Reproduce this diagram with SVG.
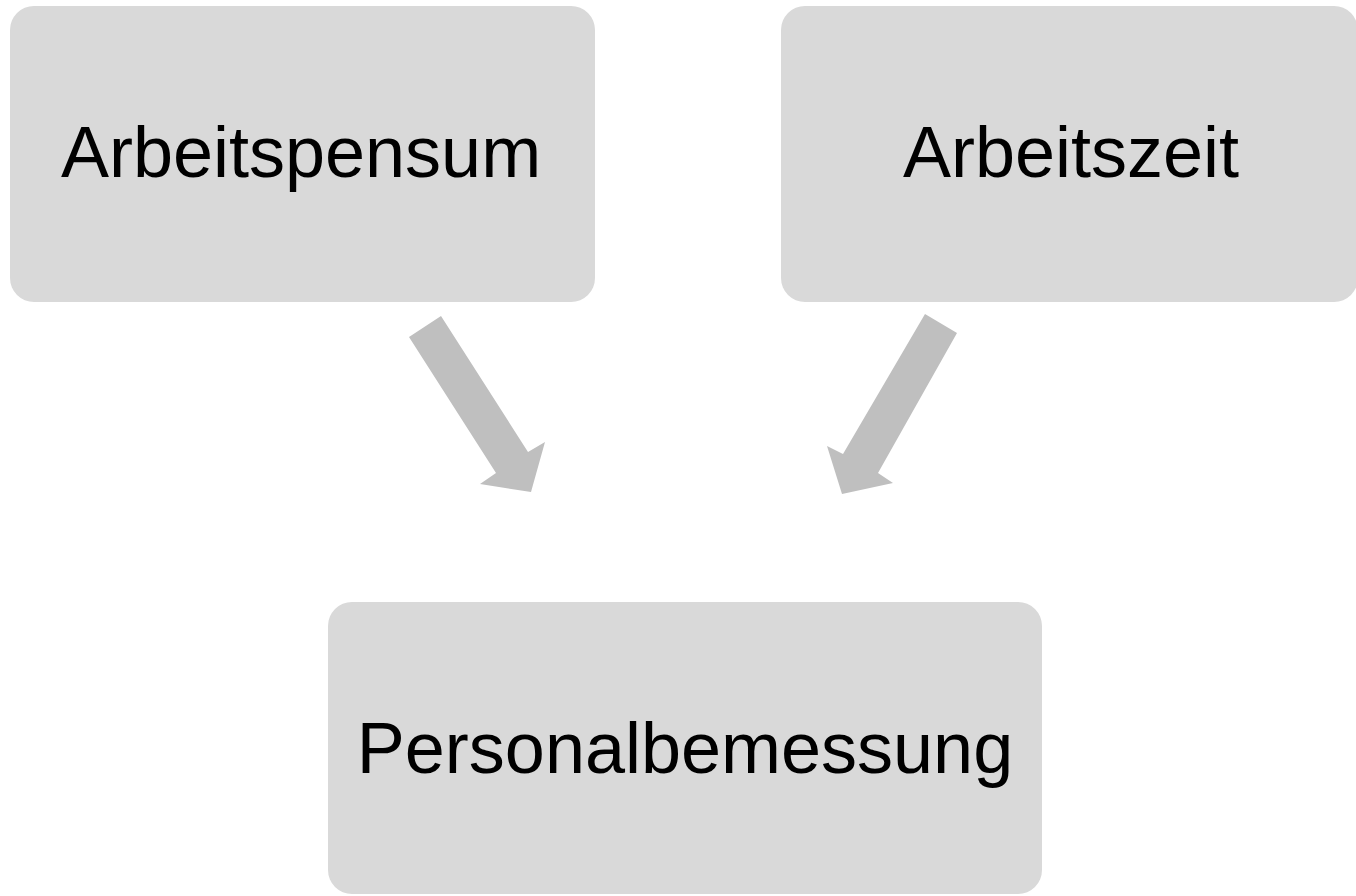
<svg xmlns="http://www.w3.org/2000/svg" width="1356" height="896" viewBox="0 0 1356 896">
<style>
.box{fill:#d9d9d9;}
.lbl{font-family:"Liberation Sans",Arial,sans-serif;font-size:72px;fill:#000;text-anchor:middle;}
.arr{fill:#bfbfbf;}
</style>
<rect width="1356" height="896" fill="#ffffff"/>
<g id="node-arbeitspensum">
<rect class="box" x="10" y="6" width="585" height="296" rx="24" ry="24"/>
<text class="lbl" x="301" y="177">Arbeitspensum</text>
</g>
<g id="node-arbeitszeit">
<rect class="box" x="781" y="6" width="577" height="296" rx="24" ry="24"/>
<text class="lbl" x="1071" y="177">Arbeitszeit</text>
</g>
<g id="node-personalbemessung">
<rect class="box" x="328" y="602" width="714" height="292" rx="24" ry="24"/>
<text class="lbl" x="685" y="773">Personalbemessung</text>
</g>
<g id="connectors">
<polygon class="arr" points="409,337 441,316 528,452 545,442 531,492 480,484 496,473"/>
<polygon class="arr" points="957,333 925,314 843,454 827,446 842,494 893,483 878,473"/>
</g>
</svg>
